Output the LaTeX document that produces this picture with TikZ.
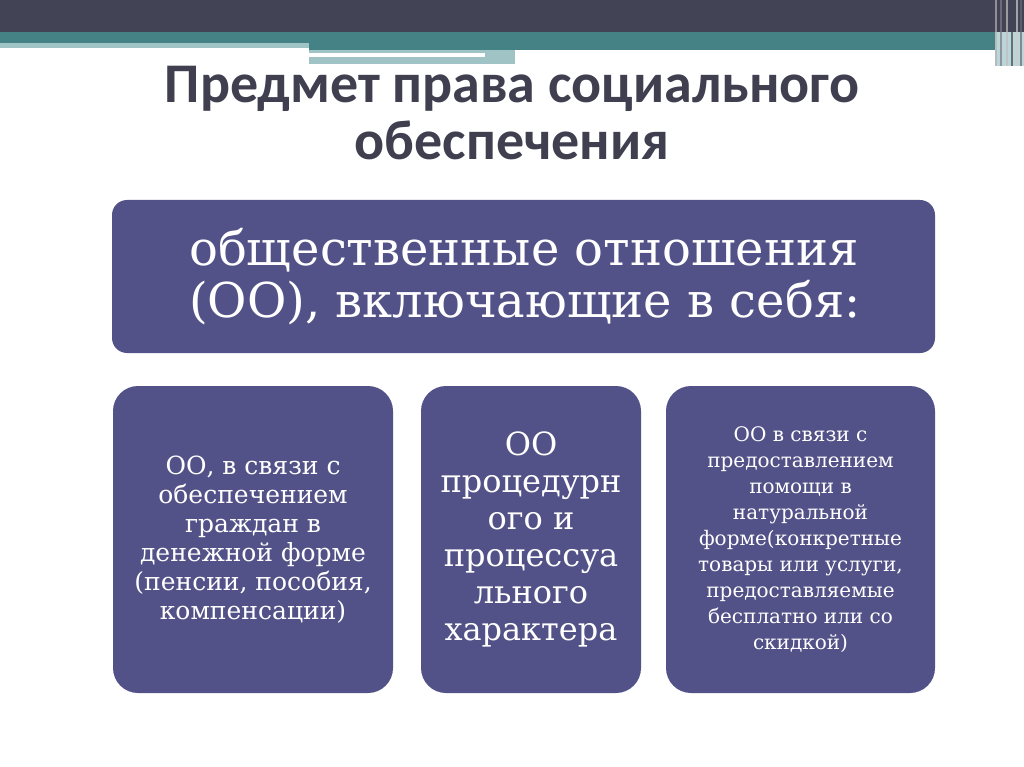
\documentclass[tikz,border=0pt]{standalone}
\usepackage{fontspec}
\setmainfont{DejaVu Serif}
\newfontfamily\titlefont{Carlito}
\definecolor{barDark}{RGB}{67,67,86}
\definecolor{barTeal}{RGB}{69,130,134}
\definecolor{barLight}{RGB}{160,195,198}
\definecolor{boxFill}{RGB}{83,82,136}
\definecolor{titleText}{RGB}{63,63,80}
\tikzset{
  titleline/.style={text=titleText, anchor=base, inner sep=0pt, font=\titlefont\bfseries\fontsize{56}{57}\selectfont},
  mainbox/.style={fill=boxFill, rounded corners=15pt, text=white, minimum width=823pt, minimum height=153pt, inner sep=0pt},
  subbox/.style={fill=boxFill, rounded corners=25pt, text=white, minimum height=307pt, inner sep=0pt, align=center}
}
\begin{document}
\begin{tikzpicture}[x = 1pt, y = -1pt]
				\useasboundingbox (0,0) rectangle (1024,767);
				\fill[barDark] (0,0) rectangle (1024,32); %dark top bar
				\fill[barTeal] (0,32) rectangle (1010,43);
				\fill[barTeal] (309,43) rectangle (1010,50);
				\fill[barLight] (0,43) rectangle (309,48);
				\fill[barLight] (309,50) rectangle (515,64);
				\fill[white] (309,53) rectangle (485,57);
				\fill[barLight!70] (995,32) rectangle (1024,66); %right stripes
				\foreach \sx/\sc in {995/gray!60, 1000/barDark!70, 1006/gray!50, 1011/barDark, 1016/gray!40, 1020/barDark!80}
					\fill[\sc, opacity=.7] (\sx,0) rectangle ++(2,66);
				\node[titleline] (title) at (512,103) {Предмет права социального}; %title
				\node[titleline] (title2) at (512,160) {обеспечения};
				\node[mainbox] (top) at (523.5,276.5) {};
				\node[text=white, align=left, inner sep=0pt, anchor=base west, font=\fontsize{48}{52}\selectfont] (topText) at (189,317) {общественные отношения\\(ОО), включающие в себя:};
				\node[subbox, minimum width=280pt, font=\fontsize{25}{29}\selectfont] (money) at (253,539.5) {ОО, в связи с\\обеспечением\\граждан в\\денежной форме\\(пенсии, пособия,\\компенсации)};
				\node[subbox, minimum width=220pt, font=\fontsize{32}{37}\selectfont] (proc) at (531,539.5) {ОО\\процедурн\\ого и\\процессуа\\льного\\характера};
				\node[subbox, minimum width=269pt, font=\fontsize{20}{26}\selectfont] (kind) at (800.5,539.5) {ОО в связи с\\предоставлением\\помощи в\\натуральной\\форме(конкретные\\товары или услуги,\\предоставляемые\\бесплатно или со\\скидкой)};
			\end{tikzpicture}
\end{document}
